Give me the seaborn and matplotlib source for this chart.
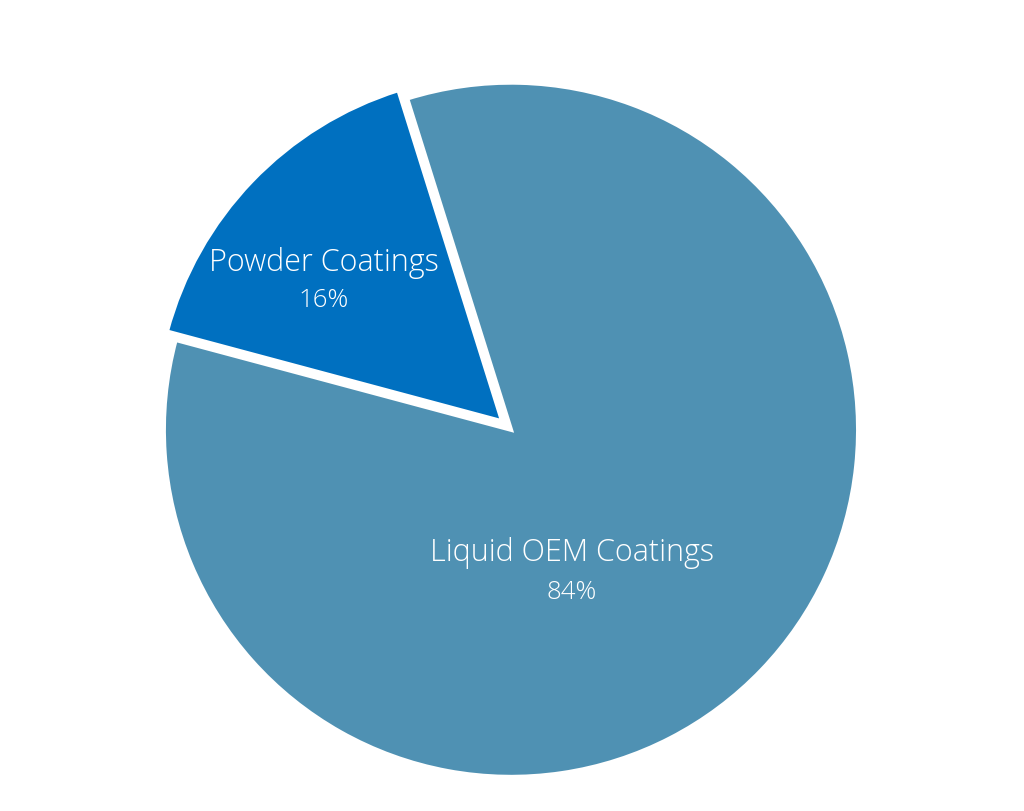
import seaborn as sb
from matplotlib import pyplot as plt

categories = ['Liquid OEM Coatings', 'Powder Coatings']
shares = [84, 16]
pct_labels = ['84%', '16%']
colors = ['#4F91B3', '#0070C0']

sb.set_theme(style='white')
plt.rcParams['font.family'] = ['Open Sans', 'DejaVu Sans']

fig = plt.figure(figsize=(10.24, 8.12), dpi=100)
ax = fig.add_axes([0.160, 0.042, 0.678, 0.855])

ax.pie(shares, colors=colors, startangle=165, explode=[0, 0.035],
       wedgeprops=dict(edgecolor='white', linewidth=3))
ax.set_xlim(-1, 1)
ax.set_ylim(-1, 1)
ax.set_aspect('equal')
ax.axis('off')

# label spots, in pie units (centre 0,0, radius 1)
name_pos = [(0.176, -0.352), (-0.539, 0.484)]
pct_pos = [(0.176, -0.467), (-0.539, 0.375)]
for name, pct, npos, ppos in zip(categories, pct_labels, name_pos, pct_pos):
    ax.text(npos[0], npos[1], name, color='white', fontsize=22,
            fontweight='light', ha='center', va='center')
    ax.text(ppos[0], ppos[1], pct, color='white', fontsize=18.5,
            fontweight='light', ha='center', va='center')

fig.savefig('out.png', dpi=100, facecolor='white')
